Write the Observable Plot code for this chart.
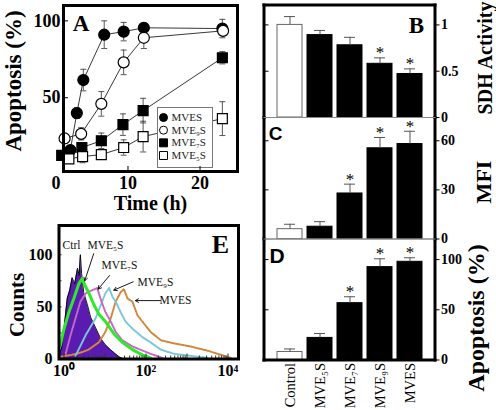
<!DOCTYPE html>
<html><head><meta charset="utf-8">
<script src="https://cdn.jsdelivr.net/npm/d3@7"></script>
<script src="https://cdn.jsdelivr.net/npm/@observablehq/plot@0.6"></script>
<style>
html,body{margin:0;padding:0;background:#fff;}
#fig{position:relative;width:496px;height:410px;overflow:hidden;background:#fff;}
#fig svg{position:absolute;}
.vlabel{position:absolute;white-space:nowrap;line-height:1;font-weight:bold;
  font-family:"Liberation Serif","Times New Roman",serif;color:#000;
  transform:translate(-50%,-50%) rotate(-90deg);}
</style></head><body><div id="fig"></div>
<script>
const SERIF = "Liberation Serif, 'Times New Roman', serif";
const SANS = "Liberation Sans, Arial, sans-serif";

// ---------- Panel A data (time course) ----------
const timeMVES  = [2.0, 2.9, 3.8, 6.7, 9.4, 12.2, 23.1];
const apoMVES   = [16, 40, 61.5, 91, 93, 95.5, 95];
const errMVES   = [3, 3.5, 7, 9, 6, 3, 6];
const timeMVE9S = [1.2, 3.5, 6.3, 9.4, 12.2, 23.2];
const apoMVE9S  = [23.5, 26.5, 46, 73, 89, 93.5];
const errMVE9S  = [3, 4, 8, 8, 7, 3];
const timeMVE7S = [0.8, 3.6, 6.3, 9.3, 12.1, 23.1];
const apoMVE7S  = [12.5, 17.6, 22, 32.5, 41.6, 76];
const errMVE7S  = [2, 3, 5, 7, 8, 4];
const timeMVE5S = [1.8, 3.7, 6.3, 9.4, 12.1, 23.1];
const apoMVE5S  = [10.2, 11.7, 13, 17.6, 24.7, 36.4];
const errMVE5S  = [2, 4, 3, 5, 10, 11];
const timeTicks = [0, 10, 20];
const apoTicksA = [50, 100];

// ---------- Panels B, C, D data ----------
const categories = ["Control", "MVE₅S", "MVE₇S", "MVE₉S", "MVES"];
const sdhValues = [1.0, 0.89, 0.78, 0.58, 0.47];
const sdhErrors = [0.09, 0.05, 0.086, 0.064, 0.055];
const sdhSig    = [false, false, false, true, true];
const mfiValues = [6.0, 7.5, 27.8, 55.4, 58];
const mfiErrors = [3, 3.1, 5.7, 6.6, 7.8];
const mfiSig    = [false, false, true, true, true];
const apoValues = [8, 22, 56.6, 92.5, 97.8];
const apoErrors = [3, 4.4, 6.4, 8.3, 4];
const apoSig    = [false, false, true, true, true];
const sdhTicks = [0, 0.5, 1];
const mfiTicks = [0, 30, 60];
const apoTicksD = [0, 50, 100];

// ---------- Panel E data (flow histograms) ----------
const ctrlFL     = [0.76, 0.87, 1.0, 1.2, 1.38, 1.58, 1.82, 2.14, 2.34, 2.51, 2.69, 3.02, 3.72, 4.47, 5.89, 7.76, 10, 13.5, 17.8, 22.4, 28.2];
const ctrlCounts = [4, 10, 29, 58, 66, 78, 72, 87, 80, 100, 82, 64, 52, 40, 30, 20, 14, 9, 5, 2, 0];
const mve5FL     = [0.81, 1.0, 1.32, 1.74, 2.29, 2.75, 3.39, 4.07, 5.37, 7.08, 10.2, 16.6, 26.3, 46.8, 81.3, 129];
const mve5Counts = [13, 29, 45, 58, 72, 77, 69, 63, 52, 43, 36, 24, 16, 9, 4, 1];
const mve7FL     = [1.10, 1.45, 1.91, 2.51, 3.39, 4.90, 6.46, 7.76, 10.2, 13.8, 18.2, 26.3, 46.8, 129, 250];
const mve7Counts = [5, 23, 39, 55, 63, 66, 68, 58, 45, 36, 26, 18, 12, 5, 1];
const mve9FL     = [1.91, 3.39, 5.89, 8.51, 10.2, 12.6, 15.1, 18.2, 24.0, 31.6, 46.8, 81.3, 129, 229, 479, 1230, 3160];
const mve9Counts = [3, 23, 39, 55, 63, 68, 60, 55, 45, 36, 29, 21, 16, 9, 5, 3, 1];
const mvesFL     = [0.79, 1.58, 2.51, 3.98, 7.08, 10.2, 13.8, 18.2, 24.0, 28.8, 35.5, 46.8, 61.7, 81.3, 129, 229, 479, 1230, 3160, 6760, 11750];
const mvesCounts = [2, 4, 6, 9, 16, 26, 39, 55, 64, 67, 58, 55, 42, 36, 26, 18, 15, 12, 8, 4, 1];
const flTicks = [1, 100, 10000];
const flTickText = ["10⁰", "10²", "10⁴"];
const countTicks = [0, 50, 100];
const eLabels = [
  {x: 1.52, y: 109, text: "Ctrl"},
  {x: 10.3, y: 109, text: "MVE₅S"},
  {x: 22.5, y: 90, text: "MVE₇S"},
  {x: 170, y: 74, text: "MVE₉S"},
  {x: 520, y: 56, text: "MVES"}
];
const eArrows = [
  {x1: 5.3, y1: 101, x2: 3.2, y2: 75},
  {x1: 12.9, y1: 80, x2: 6.8, y2: 67},
  {x1: 48.6, y1: 74, x2: 16.4, y2: 66},
  {x1: 226, y1: 56, x2: 55, y2: 56}
];

// ---------- rotated axis titles ----------
const axisTitles = [
  {text: "Apoptosis (%)", size: 23},
  {text: "Counts", size: 21},
  {text: "SDH Activity", size: 20},
  {text: "MFI", size: 22},
  {text: "Apoptosis (%)", size: 24}
];
const axisTitleCenters = [[13, 81], [16.5, 305], [485, 58], [484, 182], [476, 318]];

const fig = document.getElementById("fig");
function place(svg, left, top) {
  svg.style.left = left + "px";
  svg.style.top = top + "px";
  fig.appendChild(svg);
}
const baseStyle = {background: "transparent", overflow: "visible", fontFamily: SERIF};
const mid = {textAnchor: "middle", lineAnchor: "middle"};

// ================= Panel A =================
const aSeries = [
  {name: "MVES",  t: timeMVES,  v: apoMVES,  e: errMVES,  symbol: "circle", fill: "black", r: 5.5},
  {name: "MVE₉S", t: timeMVE9S, v: apoMVE9S, e: errMVE9S, symbol: "circle", fill: "white", r: 5.5},
  {name: "MVE₇S", t: timeMVE7S, v: apoMVE7S, e: errMVE7S, symbol: "square", fill: "black", r: 5.6},
  {name: "MVE₅S", t: timeMVE5S, v: apoMVE5S, e: errMVE5S, symbol: "square", fill: "white", r: 5.6}
];
const rowsOf = s => s.t.map((t, i) => ({series: s.name, t, v: s.v[i], e: s.e[i]}));
const capSymbol = {draw(ctx, size) { const r = Math.sqrt(size / Math.PI); ctx.moveTo(-r, 0); ctx.lineTo(r, 0); }};
const aW = 250, aH = 215, aML = 63, aMR = 13, aMT = 5, aMB = 44;
const aFW = aW - aML - aMR, aFH = aH - aMT - aMB;

const aMarks = [];
for (const s of aSeries) {
  aMarks.push(Plot.line(rowsOf(s), {x: "t", y: "v", stroke: "#222", strokeWidth: 0.9}));
}
for (const s of aSeries) {
  const rows = rowsOf(s);
  aMarks.push(
    Plot.ruleX(rows, {x: "t", y1: d => d.v - d.e, y2: d => d.v + d.e, stroke: "#444", strokeWidth: 0.9}),
    Plot.dot(rows, {x: "t", y: d => d.v + d.e, symbol: capSymbol, r: 3, stroke: "#444", strokeWidth: 0.9, fill: "none"}),
    Plot.dot(rows, {x: "t", y: d => d.v - d.e, symbol: capSymbol, r: 3, stroke: "#444", strokeWidth: 0.9, fill: "none"})
  );
}
for (const s of aSeries) {
  aMarks.push(Plot.dot(rowsOf(s), {x: "t", y: "v", symbol: s.symbol, r: s.r, fill: s.fill, stroke: "black", strokeWidth: 1.2}));
}
aMarks.push(Plot.frame({fill: "white", stroke: "#777", strokeWidth: 1, insetLeft: 94, insetRight: 25, insetTop: 102, insetBottom: 4}));
aSeries.forEach((s, i) => {
  aMarks.push(
    Plot.dot([s.name], {frameAnchor: "top-left", dx: 100, dy: 112 + 12.67 * i, symbol: s.symbol, r: s.symbol === "circle" ? 4 : 4.5, fill: s.fill, stroke: "black", strokeWidth: 1}),
    Plot.text([s.name], {frameAnchor: "top-left", dx: 108, dy: 112 + 12.67 * i, text: d => d, textAnchor: "start", lineAnchor: "middle", fontSize: 11, fill: "#222"})
  );
});
aMarks.push(
  Plot.tickY(apoTicksA, {y: d => d, insetRight: aFW - 5, stroke: "black"}),
  Plot.tickX(timeTicks.filter(t => t > 1.05), {x: d => d, insetTop: aFH - 5, stroke: "black"}),
  Plot.axisY(apoTicksA, {anchor: "left", tickSize: 0, tickPadding: 3, fontSize: 18, fontWeight: "bold", fontFamily: SERIF, label: null}),
  Plot.axisX(timeTicks, {anchor: "bottom", tickSize: 0, tickPadding: 5, fontSize: 18, fontWeight: "bold", fontFamily: SERIF, label: null}),
  Plot.frame({stroke: "black", strokeWidth: 3}),
  Plot.text(["A"], {frameAnchor: "top-left", dx: 17.5, dy: 18, text: d => d, ...mid, fontSize: 23, fontWeight: "bold", fontFamily: SERIF}),
  Plot.text(["Time (h)"], {frameAnchor: "bottom", dy: 32, text: d => d, ...mid, fontSize: 20, fontWeight: "bold", fontFamily: SERIF})
);
const plotA = Plot.plot({
  width: aW, height: aH, marginLeft: aML, marginRight: aMR, marginTop: aMT, marginBottom: aMB,
  style: baseStyle,
  x: {domain: [1.05, 25.2]},
  y: {domain: [2, 110]},
  marks: aMarks
});
place(plotA, 0, 0);

// ================= Panels B, C, D =================
const bW = 246, bML = 13.5, bMR = 61.5;
const bFW = bW - bML - bMR;
function barPanel({values, errors, sig, domain, ticks, height, mt, mb, letter, letterFont, letterSize, letterDx, letterDy, topThick, bottomThick, xAxis}) {
  const rows = categories.map((c, i) => ({cat: c, v: values[i], e: errors[i], sig: sig[i]}));
  const marks = [
    Plot.barY(rows, {x: "cat", y: "v", fill: d => d.cat === "Control" ? "white" : "black", stroke: d => d.cat === "Control" ? "#666" : "black", strokeWidth: 1}),
    Plot.ruleX(rows, {x: "cat", y1: "v", y2: d => d.v + d.e, stroke: "#555", strokeWidth: 1}),
    Plot.tickY(rows, {x: "cat", y: d => d.v + d.e, stroke: "#555", strokeWidth: 1, insetLeft: 7, insetRight: 7}),
    Plot.text(rows.filter(d => d.sig), {x: "cat", y: d => d.v + d.e, text: () => "*", dy: -5, fontSize: 17, fontFamily: SERIF}),
    Plot.tickY(ticks.filter(t => t > 0), {y: d => d, insetRight: bFW - 5, stroke: "black"}),
    Plot.axisY(ticks, {anchor: "right", tickSize: 4, tickPadding: 2, fontSize: 14, fontWeight: "bold", fontFamily: SERIF, label: null, tickFormat: d => String(d)}),
    Plot.frame({anchor: "left", stroke: "black", strokeWidth: 3}),
    Plot.frame({anchor: "right", stroke: "black", strokeWidth: 3}),
    Plot.frame({anchor: "top", stroke: topThick ? "black" : "#888", strokeWidth: topThick ? 3 : 1}),
    Plot.frame({anchor: "bottom", stroke: bottomThick ? "black" : "#888", strokeWidth: bottomThick ? 3 : 1}),
    Plot.text([letter], {frameAnchor: letterDx < 0 ? "top-right" : "top-left", dx: letterDx, dy: letterDy, text: d => d, ...mid, fontSize: letterSize, fontWeight: "bold", fontFamily: letterFont})
  ];
  if (xAxis) marks.push(Plot.axisX({anchor: "bottom", tickSize: 0, tickPadding: 3, tickRotate: -90, fontSize: 14.5, fontFamily: SERIF, label: null}));
  return Plot.plot({
    width: bW, height, marginLeft: bML, marginRight: bMR, marginTop: mt, marginBottom: mb,
    style: baseStyle,
    x: {type: "band", domain: categories, paddingInner: 0.18, paddingOuter: 0.354, axis: xAxis ? undefined : null},
    y: {domain},
    marks
  });
}
place(barPanel({values: sdhValues, errors: sdhErrors, sig: sdhSig, domain: [0, 1.215], ticks: sdhTicks,
  height: 125, mt: 4.5, mb: 8, letter: "B", letterFont: SERIF, letterSize: 23, letterDx: -18.5, letterDy: 20.5,
  topThick: true, bottomThick: false, xAxis: false}), 250, 0);
place(barPanel({values: mfiValues, errors: mfiErrors, sig: mfiSig, domain: [0, 74.2], ticks: mfiTicks,
  height: 135, mt: 7, mb: 6.5, letter: "C", letterFont: SANS, letterSize: 19, letterDx: 11.5, letterDy: 16.5,
  topThick: false, bottomThick: false, xAxis: false}), 250, 110);
place(barPanel({values: apoValues, errors: apoErrors, sig: apoSig, domain: [0, 120.5], ticks: apoTicksD,
  height: 178, mt: 6.5, mb: 50.5, letter: "D", letterFont: SANS, letterSize: 21, letterDx: 13, letterDy: 17.5,
  topThick: false, bottomThick: true, xAxis: true}), 250, 232);

// ================= Panel E =================
const eW = 250, eH = 195, eML = 58.5, eMR = 12, eMT = 10, eMB = 51.5;
const eFW = eW - eML - eMR, eFH = eH - eMT - eMB;
const hist = (fl, c) => fl.map((x, i) => ({x, y: c[i]}));
const majorTicks = [1, 10, 100, 1000, 10000];
const minorTicks = [];
for (let k = 0; k < 4; k++) for (let m = 2; m <= 9; m++) minorTicks.push(m * majorTicks[k]);
const dotted = {strokeWidth: 2, strokeDasharray: "1.5,1.2"};
const plotE = Plot.plot({
  width: eW, height: eH, marginLeft: eML, marginRight: eMR, marginTop: eMT, marginBottom: eMB,
  style: baseStyle,
  x: {type: "log", domain: [0.755, 18030]},
  y: {domain: [0, 128]},
  marks: [
    Plot.areaY(hist(ctrlFL, ctrlCounts), {x: "x", y: "y", fill: "#5a1cb0"}),
    Plot.line(hist(ctrlFL, ctrlCounts), {x: "x", y: "y", stroke: "black", strokeWidth: 0.9}),
    Plot.line(hist(mvesFL, mvesCounts), {x: "x", y: "y", stroke: "#d2873a", ...dotted}),
    Plot.line(hist(mve9FL, mve9Counts), {x: "x", y: "y", stroke: "#7cc6da", ...dotted}),
    Plot.line(hist(mve7FL, mve7Counts), {x: "x", y: "y", stroke: "#c768c4", ...dotted}),
    Plot.line(hist(mve5FL, mve5Counts), {x: "x", y: "y", stroke: "#2fe82a", strokeWidth: 3}),
    Plot.arrow(eArrows, {x1: "x1", y1: "y1", x2: "x2", y2: "y2", stroke: "black", strokeWidth: 0.9, headLength: 6}),
    Plot.text(eLabels, {x: "x", y: "y", text: "text", fontSize: 11.5, fontFamily: SERIF, fill: "#111"}),
    Plot.tickX(minorTicks, {x: d => d, insetTop: eFH - 3, stroke: "#333"}),
    Plot.tickX(majorTicks, {x: d => d, insetTop: eFH - 5, stroke: "#333"}),
    Plot.tickY([25, 50, 75, 100], {y: d => d, insetRight: eFW - 3, stroke: "#333"}),
    Plot.axisY(countTicks, {anchor: "left", tickSize: 0, tickPadding: 6.5, fontSize: 16, fontWeight: "bold", fontFamily: SERIF, label: null}),
    Plot.axisX(flTicks, {anchor: "bottom", tickSize: 0, tickPadding: 6, tickFormat: d => flTickText[flTicks.indexOf(d)], fontSize: 16, fontWeight: "bold", fontFamily: SERIF, label: null}),
    Plot.frame({stroke: "black", strokeWidth: 3}),
    Plot.text(["E"], {frameAnchor: "top-right", dx: -18, dy: 19, text: d => d, ...mid, fontSize: 26, fontWeight: "bold", fontFamily: SERIF})
  ]
});
place(plotE, 0, 215);

// rotated axis titles as real text
axisTitles.forEach((t, i) => {
  const div = document.createElement("div");
  div.className = "vlabel";
  div.textContent = t.text;
  div.style.fontSize = t.size + "px";
  div.style.left = axisTitleCenters[i][0] + "px";
  div.style.top = axisTitleCenters[i][1] + "px";
  fig.appendChild(div);
});
</script>
</body></html>
